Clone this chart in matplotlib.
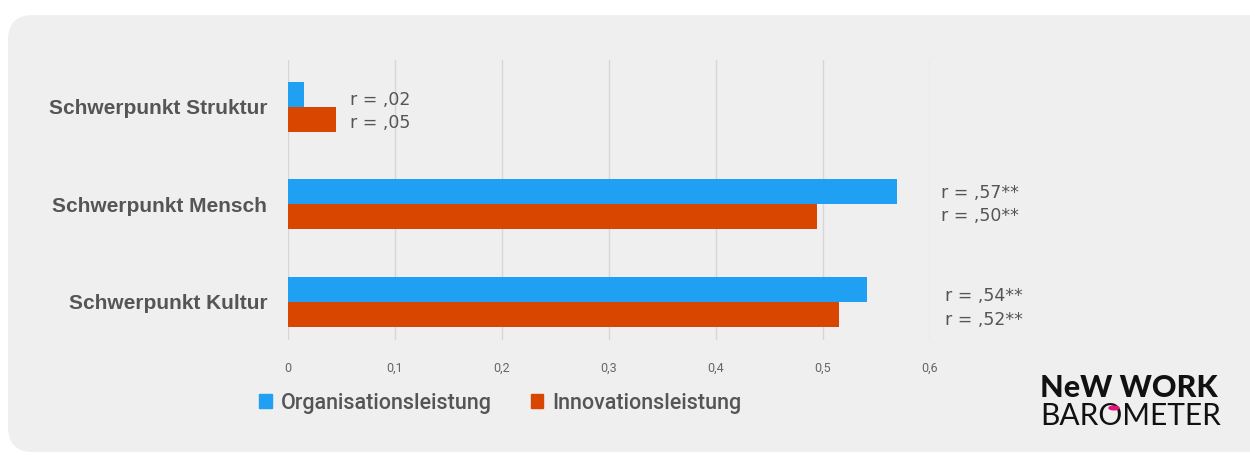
import matplotlib.pyplot as plt
from matplotlib.patches import FancyBboxPatch, Patch

categories = ["Schwerpunkt Kultur", "Schwerpunkt Mensch", "Schwerpunkt Struktur"]
organisation = [0.541, 0.569, 0.015]
innovation = [0.515, 0.494, 0.045]
org_labels = ["r = ,54**", "r = ,57**", "r = ,02"]
inno_labels = ["r = ,52**", "r = ,50**", "r = ,05"]
ticks = [0, 0.1, 0.2, 0.3, 0.4, 0.5, 0.6]
tick_labels = ["0", "0,1", "0,2", "0,3", "0,4", "0,5", "0,6"]

blue = "#1fa0f2"
red = "#d94600"
grey_text = "#555555"

fig = plt.figure(figsize=(12.5, 4.55), dpi=100)
fig.patch.set_facecolor("white")

# rounded panel behind everything
panel = FancyBboxPatch((8 / 1250, 3 / 455), 1.2, 437 / 455,
                       boxstyle="round,pad=0,rounding_size=0.02",
                       transform=fig.transFigure, facecolor="#efefef",
                       edgecolor="none", zorder=-5, mutation_aspect=1250 / 455)
fig.patches.append(panel)

ax = fig.add_axes([288 / 1250, 115 / 455, 642 / 1250, 280 / 455])
ax.set_facecolor("none")
ax.set_zorder(2)

h = 0.256
y = range(len(categories))
ax.barh([i + h / 2 for i in y], organisation, height=h, color=blue, zorder=3)
ax.barh([i - h / 2 for i in y], innovation, height=h, color=red, zorder=3)

ax.set_xlim(0, 0.6)
ax.set_ylim(-0.39, 2.48)
ax.set_xticks(ticks)
ax.set_xticklabels(tick_labels, fontsize=9, color="#666666", family="Roboto")
ax.tick_params(axis="x", length=0, pad=16)
ax.set_yticks(list(y))
ax.set_yticklabels(categories, fontsize=15, fontweight="bold", color=grey_text,
                   family="Liberation Sans")
ax.tick_params(axis="y", length=0, pad=15)
ax.grid(axis="x", color="#d6d6d6", linewidth=1, zorder=0)
for s in ax.spines.values():
    s.set_visible(False)

# correlation labels (placement only)
label_x = [0.614, 0.610, 0.058]
label_dy = [(0.06, -0.18), (0.12, -0.12), (0.07, -0.17)]
for i in y:
    ax.text(label_x[i], i + label_dy[i][0], org_labels[i], fontsize=12.5,
            color=grey_text, va="center", family="DejaVu Sans")
    ax.text(label_x[i], i + label_dy[i][1], inno_labels[i], fontsize=12.5,
            color=grey_text, va="center", family="DejaVu Sans")

handles = [Patch(color=blue, label="Organisationsleistung"),
           Patch(color=red, label="Innovationsleistung")]
fig.legend(handles=handles, loc="center left", bbox_to_anchor=(240 / 1250, 1 - 403 / 455),
           ncol=2, frameon=False, handlelength=0.6, handleheight=0.6,
           handletextpad=0.4, columnspacing=1.8,
           prop={"family": "Roboto", "size": 15.5, "weight": "medium"},
           labelcolor=grey_text)

# logo
fig.text(1040 / 1250, 1 - 388 / 455, "NeW WORK", fontsize=22, fontweight="black",
         color="#111111", family="Lato", va="center")
fig.text(1040 / 1250, 1 - 416 / 455, "BAROMETER", fontsize=21.5, fontweight="normal",
         color="#111111", family="Lato", va="center")
fig.patches.append(plt.Circle((1114 / 1250, 1 - 408 / 455), 0.004,
                              transform=fig.transFigure, color="#e6137a", zorder=5))

fig.savefig("out.png", dpi=100)
